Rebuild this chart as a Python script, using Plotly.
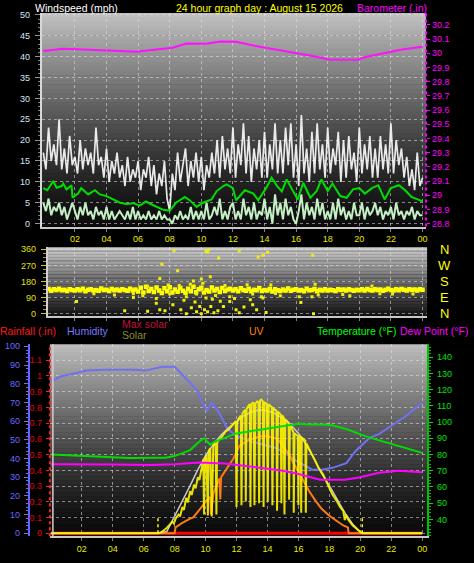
import plotly.graph_objects as go

W, H = 474, 563
def px(x): return x / W
def py(y): return 1 - y / H

# ---------------- DATA ----------------
# time grid (hours) for 10-minute samples
t10 = [i / 6 for i in range(145)]

gust = [17,13,23,15,19,14, 25,13,18,12,21,14, 16,12,20,13,18,14, 17,12,23,14,16,11,
        18,10,15,12,17,11, 14,9,16,10,13,11, 15,8,13,11,16,9, 14,7,12,9,15,6,
        3,12,8,17,10,14, 18,9,15,11,17,10, 16,8,14,11,17,12, 20,11,21,13,18,12,
        23,11,19,14,24,12, 21,10,18,13,20,11, 22,11,19,13,24,12, 20,12,23,14,24,11,
        19,9,26,12,18,10, 22,12,24,13,19,11, 23,12,18,14,22,10, 20,11,21,13,17,10,
        23,12,19,13,21,11, 18,11,21,13,19,12, 24,12,20,14,18,11, 16,9,13,8,17,9, 11]

speed = [5,3,6,2,4,3, 5,2,4,1,3,5, 3,1,4,2,5,2, 3,1,4,2,3,1,
         4,1,3,1,2,3, 2,1,3,1,4,1, 3,1,2,1,3,1, 2,1,3,1,2,1,
         1,0,2,1,3,1, 2,1,4,1,3,1, 3,1,5,1,2,4, 2,6,1,3,1,4,
         5,1,3,1,6,2, 4,1,5,1,3,2, 6,1,4,0,7,2, 5,1,6,2,4,1,
         0,3,7,1,5,2, 4,1,6,2,5,1, 3,1,5,1,6,2, 4,1,3,1,5,2,
         2,5,1,4,2,3, 5,2,4,1,3,2, 4,1,5,2,3,1, 3,2,4,1,3,2, 2]

avg_t = [0,0.25,0.63,0.84,1.16,1.26,1.47,1.79,1.85,2.2,2.4,2.84,3.27,3.58,4.0,4.4,4.85,5.27,5.7,6.1,
         6.5,6.96,7.6,8.0,8.4,8.96,9.3,9.7,10.1,10.65,10.97,11.4,11.6,12.0,12.2,12.76,13.3,13.6,14.1,14.45,
         14.8,15.1,15.4,15.8,16.1,16.45,16.9,17.3,17.6,18.0,18.3,18.8,19.2,19.6,20.0,20.35,20.8,21.2,21.6,22.0,
         22.5,22.9,23.3,23.7,24.0]
avg_v = [8.5,8.0,10.2,8.6,9.0,9.6,8.2,9.2,6.2,7.2,8.5,7.0,8.0,7.0,6.6,5.8,5.0,4.7,4.9,4.3,
         5.3,4.4,3.3,3.1,5.0,6.4,5.5,4.0,5.0,5.8,7.8,9.0,9.4,8.5,5.6,8.0,7.2,5.6,8.5,11.0,
         9.0,7.7,10.6,7.8,5.8,9.8,6.2,7.8,10.6,7.8,9.6,6.6,6.2,8.2,8.5,7.2,8.5,9.2,5.8,8.5,
         9.2,8.0,6.4,5.8,5.3]

baro_t = [0,1.26,2.5,3.8,5.9,7.15,8.2,9.05,10.3,11.2,12.2,13.3,14.5,15.8,17.05,18.1,19.9,20.4,21.5,22.7,24]
baro_v = [30.015,30.031,30.026,30.019,30.01,30.026,30.038,30.068,30.066,30.082,30.08,30.054,30.031,
          30.008,29.98,29.956,29.954,29.973,29.998,30.026,30.045]

dir_band = [135,130,138,128,136,132, 140,131,134,127,137,133, 129,136,131,139,126,134,
            137,130,133,128,141,132, 134,127,138,131,135,129, 136,132,128,140,130,135,
            124,145,118,150,127,138, 121,147,130,116,142,125, 148,119,135,122,144,128,
            117,140,126,150,120,136, 145,118,132,124,147,129, 138,121,143,127,135,140,
            130,137,125,142,133,128, 139,126,134,131,144,127, 133,129,138,124,136,131,
            127,135,130,141,128,134, 136,129,133,126,139,131, 132,138,125,134,130,137,
            129,134,131,127,136,133, 135,130,137,132,128,134, 131,136,129,138,133,130,
            137,132,135,128,134,139, 133,129,136,131,138,134, 130,137,132,135,129,136, 134]

dir_out_t = [8.27,10.3,10.4,10.45,11.1,12.4,13.6,13.9,14.2,17.05,7.5,8.5,7.37,9.5,10.0,10.57,
             2.1,5.15,5.7,6.6,7.15,7.37,7.7,8.2,8.7,9.05,9.37,9.7,9.9,10.0,10.2,10.4,10.6,10.8,
             11.05,11.4,11.8,12.2,12.4,12.7,13.25,13.5,14.1,16.3,17.1,
             4.5,5.7,7.15,8.0,9.05,9.7,10.3,10.9,11.8,13.25,13.8,14.7,16.2,17.0,17.4,18.95,19.4,22.1,23.4,
             6.6,7.9,8.6,9.3,10.1,11.5,12.9,14.4,17.2,20.8,
             6.3,8.9,9.6,10.7,11.2,12.1,13.1,13.9,15.0,3.2,21.3]
dir_out_v = [354,349,346,358,312,352,317,327,344,327,277,240,197,183,194,207,
             68,17,90,13,59,22,17,50,22,0,33,11,40,0,22,11,40,5,
             17,40,68,22,5,38,50,22,7,63,0,
             105,112,85,110,95,110,88,102,95,110,95,113,95,95,104,107,100,110,110,
             153,160,158,165,170,158,162,160,165,155,
             100,75,65,80,70,85,78,88,100,112,112]

hum_t = [0,0.7,1.5,2.3,3.5,4.5,5.5,6.1,7.2,8.0,8.6,9.4,9.9,10.1,10.4,10.9,11.4,12,13,14,
         14.6,15.3,16.0,16.9,17.5,18.2,19.1,19.7,20.6,21.2,22.1,23,24]
hum_v = [81.5,84,85.5,87,87.5,87.5,87.5,87,89,89,84,77,68,65.6,70,64,56,52,49,47,
         45.5,42,38,34,34,35,37.5,44,51,53,58,63,70]

temp_t = [0,1.0,2.0,3.2,5.1,6.5,7.4,8.0,8.6,9.0,9.6,9.9,10.3,10.6,10.9,11.5,12,13.3,14.6,15.4,
          16.0,16.7,17.5,18.2,19.3,20.4,21.5,22.5,24]
temp_v = [80,79.5,79,78.5,77.8,78,78,79,81,82.7,88,90,86,88,89,91,93,95,97,98,
          99,98.5,98.5,98,95,91,88,85,81]

dew_t = [0,2,4,6.4,8,9.6,11.2,12.5,14.1,15,16,16.8,17.4,18.2,19,20,21.2,22.5,24]
dew_v = [74,74,73.8,73.5,74,75,74.5,73,71,70,68,66,64.4,64.5,64.4,66,68.7,70,69]

rain_t = [0, 24]
rain_v = [0, 0]

uv_t = [0,8.0,8.06,8.5,9.0,9.2,9.6,10.05,10.3,10.35,10.5,10.9,10.95,11.0,11.4,11.8,12.2,12.8,13.5,14.0,
        14.6,15.0,15.4,15.9,16.3,16.7,17.1,17.5,18.0,18.5,18.9,19.2,19.25,24]
uv_v = [0,0,0.5,0.9,1.25,1.36,2.0,2.8,3.1,1.6,3.4,4.7,2.9,4.8,5.6,6.4,7.5,8.0,8.3,8.3,
        8.1,7.5,6.7,5.5,4.5,3.6,2.8,2.1,1.5,1.0,0.67,0.5,0,0]

maxsol_t = [0,7.0,7.5,8.0,8.5,9.0,9.5,10.0,10.5,11.0,11.5,12.0,12.5,13.0,13.5,14.0,14.5,15.0,15.5,16.0,
            16.5,17.0,17.5,18.0,18.5,19.0,19.5,20.0,20.1,24]
maxsol_v = [0,0,10,90,170,255,340,415,475,525,565,600,630,650,660,655,640,615,580,535,
            475,400,320,255,180,110,50,8,0,0]

solar_t = [0,6.95,7.1,7.3,7.5,7.7,7.85,7.95,8.1,8.25,8.35,8.5,8.6,8.75,8.85,9.0,9.1,9.25,9.35,9.5,
           9.6,9.75,9.85,9.9,9.95,10.05,10.15,10.2,10.3,10.4,10.5,10.65,10.7,10.75,10.85,11.0,11.15,11.3,11.5,11.7,
           11.85,11.95,12.0,12.05,12.15,12.28,12.32,12.38,12.5,12.56,12.6,12.65,12.8,12.86,12.9,12.95,13.1,13.16,13.22,13.35,
           13.42,13.46,13.52,13.6,13.7,13.75,13.8,13.95,14.02,14.08,14.2,14.28,14.32,14.38,14.5,14.58,14.62,14.68,14.8,14.86,
           14.9,14.95,15.05,15.1,15.15,15.3,15.37,15.4,15.45,15.6,15.68,15.7,15.75,15.9,15.96,16.0,16.05,16.15,16.18,16.22,
           16.35,16.45,16.48,16.52,16.7,16.9,17.1,17.3,17.6,17.9,18.2,18.5,18.7,18.9,19.0,19.05,19.2,19.5,19.8,20.05,
           20.15,24]
solar_v = [0,0,5,15,30,48,62,52,85,100,90,140,125,190,165,225,205,260,240,300,
           285,350,395,100,390,420,95,440,455,90,470,480,100,485,500,510,525,545,555,575,
           590,600,140,595,615,630,150,640,655,660,170,665,685,690,140,690,700,150,695,705,
           700,160,710,715,705,140,700,695,170,690,680,675,150,670,660,655,120,650,640,635,
           160,630,620,100,610,595,590,180,580,555,540,110,535,525,520,150,520,515,110,512,
           505,495,110,480,450,420,385,350,314,260,208,170,140,120,70,100,75,42,18,3,
           0,0]

sun_t = [6.92, 20.13]      # sunrise / sunset markers
sun_mark = 85              # marker height (solar units)

hour_ticks = [2,4,6,8,10,12,14,16,18,20,22,24]
hour_text = ['02','04','06','08','10','12','14','16','18','20','22','00']

# ---------------- FIGURE ----------------
FONT = "Liberation Sans, Arial, sans-serif"
GRID = 'rgba(225,225,225,0.55)'
TICKSZ = 9
fig = go.Figure()

# panel 1: wind & barometer
fig.add_trace(go.Scatter(x=t10, y=gust, mode='lines', line=dict(color='rgba(248,248,248,0.93)', width=1.7),
                         xaxis='x', yaxis='y', hoverinfo='skip'))
fig.add_trace(go.Scatter(x=t10, y=speed, mode='lines', line=dict(color='#c4eec4', width=2),
                         xaxis='x', yaxis='y', hoverinfo='skip'))
fig.add_trace(go.Scatter(x=avg_t, y=avg_v, mode='lines', line=dict(color='#00dd00', width=2),
                         xaxis='x', yaxis='y', hoverinfo='skip'))
fig.add_trace(go.Scatter(x=baro_t, y=baro_v, mode='lines', line=dict(color='#ff10ff', width=2),
                         xaxis='x', yaxis='y2', hoverinfo='skip'))

# panel 2: wind direction
fig.add_trace(go.Scatter(x=t10, y=dir_band, mode='markers',
                         marker=dict(color='#ffff00', size=4.5, symbol='square', line=dict(width=0)),
                         xaxis='x2', yaxis='y3', hoverinfo='skip'))
fig.add_trace(go.Scatter(x=dir_out_t, y=dir_out_v, mode='markers',
                         marker=dict(color='#eeee10', size=3, symbol='square', line=dict(width=0)),
                         xaxis='x2', yaxis='y3', hoverinfo='skip'))

# panel 3
fig.add_trace(go.Scatter(x=rain_t, y=rain_v, mode='lines', line=dict(color='#ff0000', width=3),
                         xaxis='x3', yaxis='y4', hoverinfo='skip'))
fig.add_trace(go.Scatter(x=hum_t, y=hum_v, mode='lines', line=dict(color='#7070f0', width=2),
                         xaxis='x3', yaxis='y5', hoverinfo='skip'))
fig.add_trace(go.Scatter(x=uv_t, y=uv_v, mode='lines', line=dict(color='#ff7a10', width=2),
                         xaxis='x3', yaxis='y6', hoverinfo='skip'))
fig.add_trace(go.Scatter(x=maxsol_t, y=maxsol_v, mode='lines', line=dict(color='#c8c8c8', width=1.5),
                         xaxis='x3', yaxis='y7', hoverinfo='skip'))
fig.add_trace(go.Scatter(x=solar_t, y=solar_v, mode='lines', line=dict(color='rgba(255,245,0,0.9)', width=2),
                         xaxis='x3', yaxis='y7', hoverinfo='skip'))
sx, sy = [], []
for t in sun_t:
    sx += [t, t, None]
    sy += [0, sun_mark, None]
fig.add_trace(go.Scatter(x=sx, y=sy, mode='lines', line=dict(color='#ffff00', width=1.5, dash='dot'),
                         xaxis='x3', yaxis='y7', hoverinfo='skip'))
fig.add_trace(go.Scatter(x=temp_t, y=temp_v, mode='lines', line=dict(color='#00dd00', width=2),
                         xaxis='x3', yaxis='y8', hoverinfo='skip'))
fig.add_trace(go.Scatter(x=dew_t, y=dew_v, mode='lines', line=dict(color='#ff00ff', width=2),
                         xaxis='x3', yaxis='y8', hoverinfo='skip'))

# ---------------- BACKGROUND GRADIENTS ----------------
shapes = []
def grad(xr, yr, top, bot, n=48, gamma=1.0):
    for i in range(n):
        t0, t1 = i / n, (i + 1) / n
        tm = (t0 + t1) / 2
        v = int(round(bot + (top - bot) * (1 - tm) ** gamma))
        shapes.append(dict(type='rect', xref=xr, yref=yr, x0=0, x1=1,
                           y0=max(0, 1 - t1 - 0.003), y1=1 - t0,
                           fillcolor=f'rgb({v},{v},{v})', line=dict(width=0), layer='below'))
grad('x domain', 'y domain', 195, 12, gamma=1.35)
grad('x2 domain', 'y3 domain', 205, 22, gamma=1.1)
grad('x3 domain', 'y4 domain', 190, 10, gamma=1.35)

# axis decorations
shapes.append(dict(type='line', xref='paper', yref='paper', x0=px(427), x1=px(427), y0=py(226), y1=py(10),
                   line=dict(color='#ff00ff', width=2, dash='dot')))
shapes.append(dict(type='line', xref='paper', yref='paper', x0=px(50), x1=px(50), y0=py(539), y1=py(345),
                   line=dict(color='#ff2020', width=2, dash='dot')))
shapes.append(dict(type='line', xref='paper', yref='paper', x0=px(53), x1=px(53), y0=py(539), y1=py(345),
                   line=dict(color='#d0d0d0', width=1.5)))

# ---------------- ANNOTATIONS ----------------
ann = []
def label(text, x, y, color, size=10, xanchor='left'):
    ann.append(dict(text=text, x=x, y=y, xref='paper', yref='paper', showarrow=False,
                    xanchor=xanchor, yanchor='middle', borderpad=0,
                    font=dict(color=color, size=size, family=FONT)))
label('Windspeed (mph)', px(34), py(5), '#ffffff', 10.5)
label('24 hour graph day : August 15 2026', px(260), py(5), '#ffff00', 10.5, 'center')
label('Barometer (.in)', px(429), py(5), '#ff00ff', 10.5, 'right')
label('Rainfall (.in)', px(-1), py(332), '#ff1818', 10.5)
label('Humidity', px(66), py(332), '#7878ff', 10.5)
label('Max solar', px(121), py(324), '#c0103c', 10.5)
label('Solar', px(121), py(336), '#8c8c20', 10.5)
label('UV', px(249), py(332), '#ff8000', 10.5)
label('Temperature (°F)', px(317), py(332), '#00ff00', 10.5)
label('Dew Point (°F)', px(400), py(332), '#ff00ff', 10.5)
for v, L in zip([360, 270, 180, 90, 0], ['N', 'W', 'S', 'E', 'N']):
    ann.append(dict(text=L, x=px(445), y=v, xref='paper', yref='y3', showarrow=False,
                    xanchor='center', yanchor='middle', font=dict(color='#ffff00', size=13, family=FONT)))

# ---------------- LAYOUT ----------------
def xax(domain, rng, anchor, labels=True):
    return dict(domain=domain, range=rng, anchor=anchor, tickvals=hour_ticks, ticktext=hour_text,
                showticklabels=labels, tickfont=dict(color='#e8e800', size=TICKSZ, family=FONT),
                showgrid=True, gridcolor=GRID, griddash='dot', gridwidth=1, zeroline=False,
                showline=True, linecolor='#c8c8c8', linewidth=2, ticks='outside', ticklen=3,
                tickcolor='#808080', fixedrange=True)

fig.update_layout(
    width=W, height=H, margin=dict(l=0, r=0, t=0, b=0),
    paper_bgcolor='black', plot_bgcolor='rgba(0,0,0,0)', showlegend=False,
    font=dict(family=FONT), hovermode=False,
    shapes=shapes, annotations=ann,
    xaxis=xax([px(42), px(427)], [-0.088, 24.227], 'y'),
    xaxis2=xax([px(48), px(428)], [0.29, 24.29], 'y3', labels=False),
    xaxis3=xax([px(50), px(428)], [-0.065, 24.32], 'y4'),
    yaxis=dict(domain=[py(226), py(10)], range=[-0.71, 50.47], anchor='x', tickvals=list(range(0, 51, 5)),
               tickfont=dict(color='#d4e4f8', size=TICKSZ, family=FONT), ticks='outside', ticklen=5,
               tickcolor='#909090', ticklabelstandoff=3,
               minor=dict(dtick=1, ticks='outside', ticklen=2, tickcolor='#808080', showgrid=False),
               showgrid=True, gridcolor=GRID, griddash='dot', zeroline=False,
               showline=True, linecolor='#d8d8d8', linewidth=2),
    yaxis2=dict(overlaying='y', side='right', anchor='x', range=[28.779, 30.284],
                tickvals=[28.8,28.9,29.0,29.1,29.2,29.3,29.4,29.5,29.6,29.7,29.8,29.9,30.0,30.1,30.2],
                ticktext=['28.8','28.9','29','29.1','29.2','29.3','29.4','29.5','29.6','29.7','29.8','29.9','30','30.1','30.2'],
                tickfont=dict(color='#ff00ff', size=TICKSZ, family=FONT), ticks='outside', ticklen=3,
                tickcolor='#ff00ff', showgrid=False, zeroline=False, showline=False),
    yaxis3=dict(domain=[py(316), py(247)], range=[-11, 371], anchor='x2', tickvals=[0, 90, 180, 270, 360],
                tickfont=dict(color='#e0e010', size=TICKSZ, family=FONT), ticks='outside', ticklen=5,
                tickcolor='#c8c820', ticklabelstandoff=3,
                minor=dict(dtick=22.5, ticks='outside', ticklen=3, tickcolor='#a0a020', showgrid=False),
                showgrid=True, gridcolor=GRID, griddash='dot', zeroline=False,
                showline=True, linecolor='#d0d0d0', linewidth=2),
    yaxis4=dict(domain=[py(539), py(345)], range=[-0.0189, 1.201], anchor='x3',
                tickvals=[0,0.1,0.2,0.3,0.4,0.5,0.6,0.7,0.8,0.9,1.0,1.1],
                ticktext=['0','0.1','0.2','0.3','0.4','0.5','0.6','0.7','0.8','0.9','1','1.1'],
                tickfont=dict(color='#e00000', size=TICKSZ, family=FONT), ticks='outside', ticklen=3,
                tickcolor='#ff2020', ticklabelstandoff=2,
                showgrid=True, gridcolor=GRID, griddash='dot', zeroline=False, showline=False),
    yaxis5=dict(overlaying='y4', anchor='free', position=px(29), side='left', range=[-1.59, 101.06],
                tickvals=list(range(0, 101, 10)), tickfont=dict(color='#6c6cff', size=TICKSZ, family=FONT),
                ticks='outside', ticklen=4, tickcolor='#6c6cff', ticklabelstandoff=2,
                minor=dict(dtick=2, ticks='outside', ticklen=2, tickcolor='#6c6cff', showgrid=False),
                showgrid=False, zeroline=False, showline=True, linecolor='#6464ff', linewidth=2),
    yaxis6=dict(overlaying='y4', anchor='x3', range=[-0.254, 16.17], visible=False),
    yaxis7=dict(overlaying='y4', anchor='x3', range=[-15.9, 1010.6], visible=False),
    yaxis8=dict(overlaying='y4', anchor='x3', side='right', range=[29.6, 147.9],
                tickvals=list(range(40, 141, 10)), tickfont=dict(color='#00e000', size=TICKSZ, family=FONT),
                ticks='outside', ticklen=4, tickcolor='#00e000', ticklabelstandoff=2,
                minor=dict(dtick=2, ticks='outside', ticklen=2, tickcolor='#00c000', showgrid=False),
                showgrid=False, zeroline=False, showline=True, linecolor='#00c000', linewidth=2),
)

fig.write_html("out.html", config={'displayModeBar': False, 'staticPlot': True},
               post_script="document.body.style.margin='0';document.body.style.overflow='hidden';")
